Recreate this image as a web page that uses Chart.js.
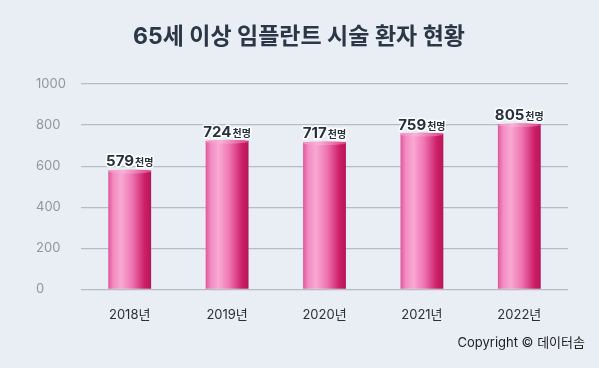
<!DOCTYPE html>
<html>
<head>
<meta charset="utf-8">
<script src="https://cdn.jsdelivr.net/npm/chart.js@4/dist/chart.umd.min.js"></script>
<style>
  html, body { margin: 0; padding: 0; background: #e9edf4; }
  #wrap { width: 599px; height: 368px; position: relative; }
</style>
</head>
<body>
<div id="wrap"><canvas id="chart" width="599" height="368"></canvas></div>
<script>
// 데이터
const years = ['2018년', '2019년', '2020년', '2021년', '2022년'];
const patients = [579, 724, 717, 759, 805];
const yTicks = [0, 200, 400, 600, 800, 1000];
const unit = '천명';

const TITLE = '65세 이상 임플란트 시술 환자 현황';
const SOURCE = 'Copyright © 데이터솜';
const FONT = 'Inter, "Noto Sans CJK KR", sans-serif';

// 막대 가로 그라데이션 (원기둥 느낌)
function barGradient(ctx, x0, x1) {
    const g = ctx.createLinearGradient(x0, 0, x1, 0);
    g.addColorStop(0, '#e2559c');
    g.addColorStop(0.12, '#f28cc1');
    g.addColorStop(0.3, '#f8a9d2');
    g.addColorStop(0.55, '#ef76b3');
    g.addColorStop(0.85, '#cc1f68');
    g.addColorStop(1, '#b8145a');
    return g;
}

const cylinderPlugin = {
    id: 'cylinder',
    beforeDatasetDraw(chart, args) {
        args.meta.data.forEach(bar => {
            const half = bar.width / 2;
            // 막대마다 옵션 복사해서 각자 그라데이션 적용
            bar.options = Object.assign({}, bar.options, {
                backgroundColor: barGradient(chart.ctx, bar.x - half, bar.x + half)
            });
        });
    },
    afterDatasetDraw(chart, args) {
        const ctx = chart.ctx;
        args.meta.data.forEach(bar => {
            const half = bar.width / 2;
            ctx.save();
            ctx.beginPath();
            ctx.ellipse(bar.x, bar.y + 1, half, 2, 0, 0, Math.PI * 2);
            const g = ctx.createLinearGradient(bar.x - half, 0, bar.x + half, 0);
            g.addColorStop(0, '#ef8fc0');
            g.addColorStop(0.35, '#f7b3d7');
            g.addColorStop(1, '#dc3f86');
            ctx.fillStyle = g;
            ctx.fill();
            ctx.restore();
        });
    }
};

const labelPlugin = {
    id: 'valueLabels',
    afterDatasetsDraw(chart) {
        const ctx = chart.ctx;
        const meta = chart.getDatasetMeta(0);
        meta.data.forEach((bar, i) => {
            const num = String(patients[i]);
            ctx.save();
            ctx.textBaseline = 'alphabetic';
            ctx.font = 'bold 15px ' + FONT;
            const w1 = ctx.measureText(num).width;
            ctx.font = 'bold 10px ' + FONT;
            const w2 = ctx.measureText(unit).width;
            const start = bar.x - (w1 + w2 + 1) / 2;
            const yb = bar.y - 4;
            ctx.lineJoin = 'round';
            ctx.strokeStyle = '#ffffff';
            ctx.lineWidth = 3;
            ctx.fillStyle = '#27303f';
            ctx.font = 'bold 15px ' + FONT;
            ctx.strokeText(num, start, yb);
            ctx.fillText(num, start, yb);
            ctx.font = 'bold 10px ' + FONT;
            ctx.strokeText(unit, start + w1 + 1, yb);
            ctx.fillText(unit, start + w1 + 1, yb);
            ctx.restore();
        });
    }
};

const textPlugin = {
    id: 'texts',
    afterDraw(chart) {
        const ctx = chart.ctx;
        ctx.save();
        ctx.fillStyle = '#2b3747';
        ctx.font = 'bold 23px ' + FONT;
        ctx.textAlign = 'center';
        ctx.textBaseline = 'middle';
        ctx.fillText(TITLE, 299, 37);
        ctx.fillStyle = '#1f1f1f';
        ctx.font = '13px ' + FONT;
        ctx.textAlign = 'right';
        ctx.fillText(SOURCE, 585, 343);
        ctx.restore();
    }
};

new Chart(document.getElementById('chart'), {
    type: 'bar',
    data: {
        labels: years,
        datasets: [{
            data: patients,
            backgroundColor: '#ee6fae',
            categoryPercentage: 1,
            barPercentage: 0.44
        }]
    },
    options: {
        responsive: false,
        animation: false,
        layout: { padding: { left: 36, right: 31, top: 84, bottom: 27 } },
        plugins: {
            legend: { display: false },
            tooltip: { enabled: false }
        },
        scales: {
            x: {
                grid: { display: false, drawTicks: false },
                border: { display: false },
                ticks: { color: '#2e2e2e', font: { size: 13, family: FONT }, padding: 18 }
            },
            y: {
                min: 0,
                max: 1000,
                afterFit(scale) { scale.width = 45; },
                afterBuildTicks(scale) { scale.ticks = yTicks.map(v => ({ value: v })); },
                grid: { color: '#b7bbc3', lineWidth: 1.2, drawTicks: false },
                border: { display: false },
                ticks: {
                    color: '#91959d', crossAlign: 'far', padding: 0,
                    font: { size: 13, family: FONT },
                    callback: v => String(v)
                }
            }
        }
    },
    plugins: [cylinderPlugin, labelPlugin, textPlugin]
});
</script>
</body>
</html>
